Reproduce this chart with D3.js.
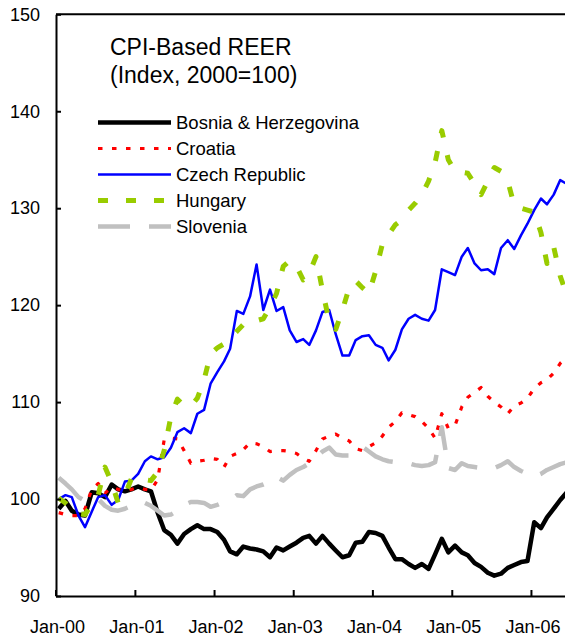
<!DOCTYPE html>
<html>
<head>
<meta charset="utf-8">
<script src="https://cdn.jsdelivr.net/npm/d3@7"></script>
<style>
  body { margin: 0; background: #fff; }
  svg { font-family: "Liberation Sans", Arial, sans-serif; }
  .axis text { font-size: 18px; fill: #000; }
  .axis path, .axis line { stroke: #000; stroke-width: 2; }
  .title { font-size: 23px; }
  .legend { font-size: 18.5px; }
</style>
</head>
<body>
<svg id="chart" width="565" height="637"></svg>
<script>
// monthly CPI-based REER, Jan-00 .. Jun-06 (index 2000=100)
const bosnia = [99.0, 99.8, 98.8, 98.4, 98.3, 100.7, 100.6, 100.2, 101.5, 101.0, 100.8, 101.0,
  101.3, 101.0, 100.8, 98.6, 96.8, 96.3, 95.4, 96.4, 96.9, 97.3, 96.9, 96.9,
  96.6, 95.8, 94.6, 94.3, 95.1, 94.9, 94.8, 94.6, 94.0, 95.0, 94.7, 95.1,
  95.5, 96.0, 96.2, 95.4, 96.2, 95.4, 94.7, 94.0, 94.2, 95.5, 95.6, 96.6,
  96.5, 96.2, 95.0, 93.8, 93.8, 93.3, 92.9, 93.3, 92.8, 94.3, 95.9, 94.5,
  95.2, 94.5, 94.2, 93.4, 93.0, 92.4, 92.1, 92.3, 92.9, 93.2, 93.5, 93.6,
  97.6, 97.0, 98.1, 99.0, 99.9, 100.7]
const croatia = [98.6, 98.4, 98.3, 98.3, 99.0, 101.0, 101.6, 100.6, 101.2, 101.0, 100.8, 101.0,
  101.2, 101.0, 100.9, 102.0, 106.1, 106.3, 106.2, 105.0, 103.7, 103.9, 104.0, 104.2,
  104.1, 103.3, 104.4, 104.7, 105.1, 105.8, 105.7, 105.4, 104.9, 105.0, 105.0, 104.9,
  104.7, 104.2, 103.9, 105.0, 106.2, 106.5, 106.7, 106.3, 106.0, 105.2, 105.0, 105.4,
  105.8, 106.5, 107.4, 108.0, 108.9, 108.7, 108.5, 108.0, 107.3, 106.3, 108.8, 107.3,
  107.6, 109.5, 110.5, 111.0, 111.5, 110.6, 110.0, 109.5, 108.8, 109.6, 109.9, 110.4,
  111.4, 112.0, 112.3, 113.0, 114.0, 114.6]
const czech = [100.0, 100.4, 100.2, 98.3, 97.1, 98.7, 100.2, 100.4, 99.4, 99.9, 101.8, 101.9,
  102.6, 103.9, 104.4, 104.1, 104.3, 105.3, 106.9, 107.3, 106.8, 108.8, 109.2, 111.9,
  113.1, 114.2, 115.5, 119.4, 119.1, 120.9, 124.2, 119.5, 121.6, 119.4, 119.8, 117.4,
  116.2, 116.5, 115.9, 117.4, 119.3, 119.5, 117.0, 114.8, 114.8, 116.4, 116.8, 116.9,
  115.9, 115.6, 114.3, 115.4, 117.5, 118.6, 119.0, 118.6, 118.4, 119.5, 123.7, 123.4,
  123.1, 125.0, 125.9, 124.3, 123.6, 123.7, 123.2, 125.9, 126.7, 125.8, 127.2, 128.4,
  129.8, 131.0, 130.4, 131.4, 132.9, 132.5]
const hungary = [100.1, 99.6, 98.9, 98.5, 98.4, 99.5, 100.4, 103.3, 101.7, 99.6, 100.4, 102.1,
  102.3, 102.0, 101.9, 102.8, 105.0, 108.5, 110.3, 109.6, 109.6, 110.4, 112.3, 115.0,
  115.6, 116.0, 116.5, 117.3, 118.0, 117.9, 118.4, 118.6, 119.8, 121.2, 124.0, 124.6,
  124.0, 122.6, 123.3, 125.0, 121.5, 118.3, 117.5, 119.5, 121.8, 122.5, 121.8, 121.2,
  123.5, 126.3, 127.3, 128.3, 128.8, 129.8, 130.5, 131.4, 132.8, 134.7, 138.0, 135.0,
  133.8, 133.7, 133.6, 132.5, 131.4, 132.8, 134.2, 133.8, 132.8, 130.3, 130.0, 129.8,
  129.6, 127.5, 124.3, 126.0, 123.0, 121.0]
const slovenia = [102.2, 101.6, 101.0, 100.2, 99.8, 99.7, 100.0, 99.3, 98.9, 98.8, 99.0, 99.3,
  99.7, 99.6, 99.3, 98.8, 98.3, 98.4, 98.8, 99.4, 99.7, 99.7, 99.6, 99.2,
  99.4, 99.7, 99.9, 100.4, 100.3, 101.0, 101.3, 101.5, 101.8, 102.3, 101.9, 102.5,
  103.0, 103.3, 103.7, 104.3, 104.9, 105.3, 104.6, 104.5, 104.5, 105.0, 105.4, 104.9,
  104.4, 104.1, 103.9, 103.8, 103.7, 103.7, 103.5, 103.4, 103.5, 103.8, 107.4, 103.2,
  103.0, 103.7, 103.4, 103.3, 103.2, 103.1, 103.2, 103.5, 103.9, 103.3, 102.9, 102.6,
  102.3, 102.6, 103.0, 103.3, 103.6, 103.8]

const seriesNames = ["Bosnia & Herzegovina", "Croatia", "Czech Republic", "Hungary", "Slovenia"]
const seriesData = [bosnia, croatia, czech, hungary, slovenia]
const seriesColors = ["#000000", "#ff0000", "#0000ff", "#99cc00", "#c0c0c0"]
const seriesWidths = [4.5, 3.2, 2.5, 5, 4.5]
const seriesDash = [null, "4.5,9.5", null, "10,18", "32,19"]
const yTicks = [90, 100, 110, 120, 130, 140, 150]
const yearTicks = [2000, 2001, 2002, 2003, 2004, 2005, 2006]

const svg = d3.select("#chart")
const plotLeft = 56, plotTop = 14.3, plotRight = 565, plotBottom = 596

// mid-month dates
const dates = bosnia.map((d, i) => new Date(2000, i, 16))

let x = d3.scaleTime()
  .domain([new Date(2000, 0, 1), new Date(2006, 5, 7)])
  .range([plotLeft - 0.5, plotRight])
let y = d3.scaleLinear().domain([90, 150]).range([plotBottom, plotTop])

svg.append("clipPath").attr("id", "plot")
  .append("rect")
  .attr("x", plotLeft).attr("y", plotTop - 3)
  .attr("width", plotRight - plotLeft).attr("height", plotBottom - plotTop + 3)

// Lines
let line = d3.line()
  .x((d, i) => x(dates[i]))
  .y(d => y(d))

seriesData.forEach(function (s, k) {
  svg.append("path")
    .datum(s)
    .attr("clip-path", "url(#plot)")
    .attr("fill", "none")
    .attr("stroke", seriesColors[k])
    .attr("stroke-width", seriesWidths[k])
    .attr("stroke-dasharray", seriesDash[k])
    .attr("stroke-linejoin", "round")
    .attr("d", line)
})

// top border
svg.append("line")
  .attr("x1", plotLeft).attr("x2", plotRight)
  .attr("y1", plotTop).attr("y2", plotTop)
  .attr("stroke", "#000").attr("stroke-width", 2)

// Axes
let y_axis = d3.axisLeft(y).tickValues(yTicks)
  .tickSizeInner(-5).tickSizeOuter(0).tickPadding(16)
svg.append("g").attr("class", "axis")
  .attr("transform", `translate(${plotLeft},0)`)
  .call(y_axis)

let x_axis = d3.axisBottom(x)
  .tickValues(yearTicks.map(yr => new Date(yr, 0, 1)))
  .tickFormat(d3.timeFormat("%b-%y"))
  .tickSizeInner(-6).tickSizeOuter(0).tickPadding(24)
svg.append("g").attr("class", "axis")
  .attr("transform", `translate(0,${plotBottom})`)
  .call(x_axis)
  .selectAll("text").attr("dx", 1.5)

// Title
let title = svg.append("text").attr("class", "title").attr("x", 110)
title.append("tspan").attr("x", 110).attr("y", 55).text("CPI-Based REER")
title.append("tspan").attr("x", 110).attr("y", 83).text("(Index, 2000=100)")

// legend
seriesNames.forEach(function (d, i) {
  let lgnd = svg.append("g").attr("transform", `translate(98,${122.5 + i * 26})`)
  lgnd.append("line")
    .attr("x1", 0).attr("x2", 73)
    .attr("stroke", seriesColors[i])
    .attr("stroke-width", seriesWidths[i])
    .attr("stroke-dasharray", seriesDash[i])
  lgnd.append("text").attr("class", "legend")
    .attr("x", 78).attr("dy", "0.36em").text(d)
})
</script>
</body>
</html>
